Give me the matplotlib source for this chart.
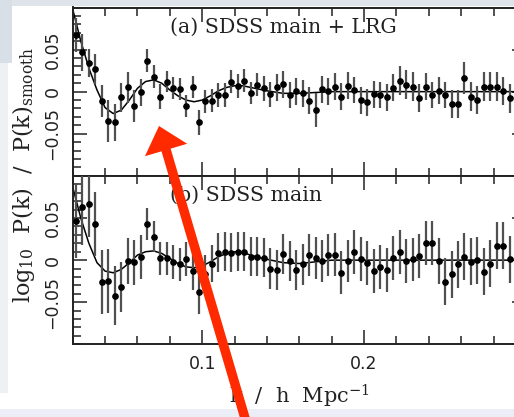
import numpy as np
import matplotlib
matplotlib.use('Agg')
import matplotlib.pyplot as plt
from matplotlib.patches import FancyArrow, Rectangle

plt.rcParams['mathtext.fontset'] = 'custom'
plt.rcParams['mathtext.rm'] = 'DejaVu Serif'
plt.rcParams['mathtext.it'] = 'DejaVu Serif:italic'

# k bins (h/Mpc)
k = np.round(0.022 + 0.004 * np.arange(68), 3)

# (a) SDSS main + LRG
ratio_a = [0.0675, 0.047, 0.034, 0.027, -0.0115, -0.035, -0.0365, -0.0068, 0.005, -0.0167,
           -0.0008, 0.037, 0.018, -0.006, 0.012, 0.0044, 0.003, -0.0167, 0.006, -0.0365,
           -0.0115, -0.0107, -0.004, -0.004, 0.012, 0.007, 0.013, -0.002, 0.0083, 0.004,
           -0.003, 0.005, 0.009, -0.004, 0.0004, -0.002, -0.0107, -0.022, 0.003, 0.0004,
           0.006, -0.006, 0.007, 0.002, -0.010, -0.0127, -0.003, -0.004, -0.0068, 0.0044,
           0.013, 0.0083, 0.006, -0.0075, 0.006, -0.004, 0.001, -0.004, -0.0147, -0.0147,
           0.016, -0.006, -0.010, 0.006, 0.006, 0.006, 0.001, -0.008]
err_a = [0.020, 0.022, 0.017, 0.018, 0.019, 0.025, 0.022, 0.017, 0.018, 0.019,
         0.016, 0.014, 0.014, 0.015, 0.013, 0.013, 0.013, 0.013, 0.013, 0.015,
         0.014, 0.014, 0.014, 0.014, 0.014, 0.014, 0.014, 0.013, 0.014, 0.015,
         0.015, 0.016, 0.016, 0.016, 0.016, 0.016, 0.016, 0.020, 0.016, 0.016,
         0.016, 0.016, 0.016, 0.016, 0.016, 0.016, 0.016, 0.016, 0.016, 0.016,
         0.017, 0.017, 0.017, 0.017, 0.016, 0.016, 0.016, 0.016, 0.017, 0.017,
         0.019, 0.017, 0.017, 0.017, 0.017, 0.017, 0.017, 0.017]

# (b) SDSS main
ratio_b = [0.047, 0.063, 0.067, 0.0425, -0.0265, -0.0246, -0.0425, -0.0317, -0.0008, -0.0027,
           0.004, 0.0425, 0.028, 0.002, 0.002, -0.002, -0.005, 0.0012, -0.013, -0.0377,
           -0.016, -0.004, 0.009, 0.010, 0.0087, 0.010, 0.010, 0.004, 0.004, 0.003,
           -0.010, -0.012, 0.007, -0.0008, -0.012, -0.005, 0.006, 0.003, -0.0012, 0.006,
           0.0067, -0.0147, -0.0012, 0.010, 0.0012, -0.003, -0.0127, -0.008, -0.012, 0.003,
           0.010, -0.0012, 0.0008, 0.0048, 0.020, 0.020, -0.0008, -0.0258, -0.017, -0.005,
           0.004, -0.002, 0.000, -0.014, -0.004, 0.017, 0.017, 0.0008]
err_b = [0.045, 0.045, 0.040, 0.038, 0.038, 0.038, 0.035, 0.030, 0.027, 0.027,
         0.026, 0.019, 0.018, 0.020, 0.020, 0.020, 0.020, 0.020, 0.022, 0.026,
         0.022, 0.022, 0.023, 0.023, 0.023, 0.023, 0.023, 0.023, 0.023, 0.023,
         0.024, 0.024, 0.024, 0.024, 0.024, 0.024, 0.025, 0.025, 0.025, 0.025,
         0.025, 0.025, 0.025, 0.026, 0.026, 0.026, 0.026, 0.026, 0.026, 0.026,
         0.026, 0.026, 0.026, 0.026, 0.026, 0.026, 0.027, 0.028, 0.028, 0.028,
         0.028, 0.028, 0.028, 0.028, 0.028, 0.028, 0.028, 0.028]

# smooth model curves
k_model = [0.020, 0.025, 0.030, 0.035, 0.040, 0.045, 0.050, 0.055, 0.060, 0.065,
           0.070, 0.075, 0.080, 0.085, 0.090, 0.095, 0.100, 0.105, 0.110, 0.115,
           0.120, 0.125, 0.130, 0.135, 0.140, 0.150, 0.160, 0.170, 0.180, 0.200,
           0.250, 0.300]
model_a = [0.098, 0.060, 0.028, 0.002, -0.019, -0.026, -0.022, -0.010, 0.004, 0.012,
           0.014, 0.010, 0.002, -0.005, -0.010, -0.012, -0.010, -0.005, 0.001, 0.005,
           0.007, 0.007, 0.005, 0.003, 0.001, -0.002, -0.002, -0.001, 0.000, 0.000,
           0.000, 0.000]
model_b = [0.087, 0.050, 0.020, -0.003, -0.013, -0.015, -0.011, -0.003, 0.006, 0.010,
           0.011, 0.008, 0.002, -0.004, -0.008, -0.009, -0.007, -0.002, 0.004, 0.008,
           0.010, 0.009, 0.006, 0.003, 0.001, -0.003, -0.004, -0.002, 0.000, 0.000,
           0.000, 0.000]

labels = ['(a) SDSS main + LRG', '(b) SDSS main']

W, H = 514, 417
fig = plt.figure(figsize=(W / 100, H / 100), dpi=100)
fig.patch.set_facecolor('white')

# screenshot background bits
bg = fig.add_axes([0, 0, 1, 1], zorder=-1)
bg.set_xlim(0, W)
bg.set_ylim(H, 0)
bg.axis('off')
bg.add_patch(Rectangle((0, 0), W, 6, color='#dfe4eb', lw=0))
bg.add_patch(Rectangle((0, 0), 12, 63, color='#d9dfe7', lw=0))
bg.add_patch(Rectangle((0, 63), 8, 330, color='#eef0f3', lw=0))
bg.add_patch(Rectangle((0, 409), W, 8, color='#eceef7', lw=0))

left = 72.7 / W
width = (526 - 72.7) / W
ph = 168.3 / H
ax_a = fig.add_axes([left, 1 - 175.8 / H, width, ph])
ax_b = fig.add_axes([left, 1 - 344.3 / H, width, ph])

ink = '#222222'
for ax, r, e, m, lab in [(ax_a, ratio_a, err_a, model_a, labels[0]),
                         (ax_b, ratio_b, err_b, model_b, labels[1])]:
    ax.errorbar(k, r, yerr=e, fmt='o', color='black', ecolor='#505050',
                ms=3.8, elinewidth=1.6, capsize=0, zorder=3)
    ax.plot(k_model, m, color='black', lw=1.1, zorder=2)
    ax.set_xlim(0.02, 0.3)
    ax.set_ylim(-0.1, 0.1)
    ax.set_yticks([-0.05, 0, 0.05])
    ax.set_yticklabels(['\u22120.05', '0', '0.05'], rotation=90, va='center')
    ax.set_yticks(np.arange(-0.1, 0.101, 0.01), minor=True)
    ax.set_xticks([0.1, 0.2, 0.3])
    ax.set_xticks(np.arange(0.02, 0.3, 0.02), minor=True)
    ax.tick_params(which='both', direction='in', top=True, right=True,
                   labelsize=12.5, pad=8, colors=ink)
    ax.tick_params(which='major', length=10, width=1.1)
    ax.tick_params(which='minor', length=5.5, width=1.1)
    for s in ax.spines.values():
        s.set_linewidth(1.4)
        s.set_color(ink)
    ax.text(0.2147, 0.885, lab, transform=ax.transAxes, family='DejaVu Serif',
            fontsize=14.8, color=ink, va='center')

ax_a.set_xticklabels([])
# 0.3 lies past the cropped right edge
ax_b.set_xticklabels(['0.1', '0.2', ''])
ax_b.set_xlabel('k  /  h  Mpc$^{-1}$', family='DejaVu Serif', fontsize=15,
                color=ink, labelpad=7)

fig.text(0.046, 0.58, 'log$_{10}$  P(k)  /  P(k)$_{\\rm smooth}$', rotation=90,
         family='DejaVu Serif', fontsize=16, color=ink,
         ha='center', va='center')

# red arrow overlay
fg = fig.add_axes([0, 0, 1, 1], zorder=10)
fg.set_xlim(0, W)
fg.set_ylim(H, 0)
fg.axis('off')
fg.add_patch(FancyArrow(247, 425, 159 - 247, 126 - 425, width=9.5, head_width=44,
                        head_length=25, length_includes_head=True,
                        color='#ff2a00', lw=0))

fig.savefig('out.png', dpi=100)
